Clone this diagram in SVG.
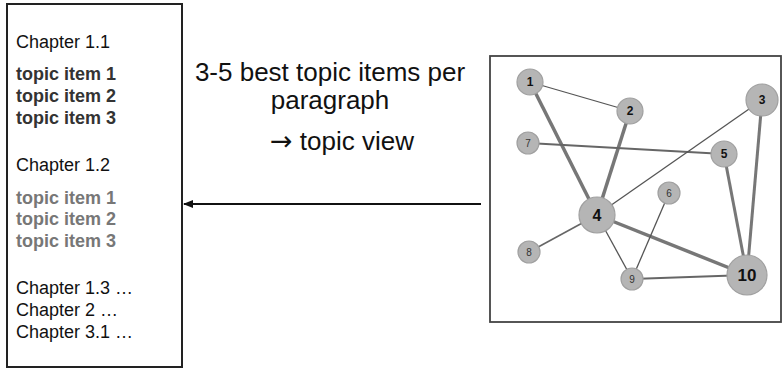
<svg xmlns="http://www.w3.org/2000/svg" width="783" height="368" viewBox="0 0 783 368">
  <defs>
    <style>
      .txt { font-family: "Liberation Sans", Arial, sans-serif; }
      .chap { font-size: 18px; fill: #111; }
      .item { font-size: 18px; font-weight: bold; fill: #333; }
      .item-dim { font-size: 18px; font-weight: bold; fill: #777; }
      .title { font-size: 26px; fill: #111; }
      .arrow-glyph { font-family: "DejaVu Sans", sans-serif; font-size: 27px; }
      .node { fill: #b5b5b5; stroke: #a0a0a0; stroke-width: 1.2; }
      .lbl-b { font-family: "Liberation Sans", Arial, sans-serif; font-weight: bold; fill: #111; text-anchor: middle; }
      .lbl { font-family: "Liberation Sans", Arial, sans-serif; font-size: 10px; fill: #333; text-anchor: middle; }
      .e-thin { stroke: #555; stroke-width: 1.3; }
      .e-mid { stroke: #666; stroke-width: 2; }
      .e-thick { stroke: #777; stroke-width: 3.5; }
    </style>
    <marker id="arrowhead" markerWidth="10" markerHeight="8" refX="9" refY="4" orient="auto" markerUnits="userSpaceOnUse">
      <path d="M0,0 L10,4 L0,8 Z" fill="#111"/>
    </marker>
  </defs>

  <rect width="783" height="368" fill="#ffffff"/>

  <!-- document outline panel -->
  <g id="outline">
    <rect x="7" y="4" width="175" height="363" fill="none" stroke="#222" stroke-width="2"/>
    <text class="txt chap" x="16" y="47.5">Chapter 1.1</text>
    <text class="txt item" x="16" y="79.5">topic item 1</text>
    <text class="txt item" x="16" y="101.5">topic item 2</text>
    <text class="txt item" x="16" y="123.5">topic item 3</text>
    <text class="txt chap" x="16" y="170.5">Chapter 1.2</text>
    <text class="txt item-dim" x="16" y="203.5">topic item 1</text>
    <text class="txt item-dim" x="16" y="225">topic item 2</text>
    <text class="txt item-dim" x="16" y="246.5">topic item 3</text>
    <text class="txt chap" x="16" y="294">Chapter 1.3 …</text>
    <text class="txt chap" x="16" y="316">Chapter 2 …</text>
    <text class="txt chap" x="16" y="338">Chapter 3.1 …</text>
  </g>

  <!-- caption -->
  <g id="caption">
    <text class="txt title" x="330" y="81" text-anchor="middle">3-5 best topic items per</text>
    <text class="txt title" x="330" y="109" text-anchor="middle">paragraph</text>
    <text class="txt title" x="342" y="150" text-anchor="middle"><tspan class="arrow-glyph">→</tspan> topic view</text>
  </g>

  <!-- topic graph panel -->
  <g id="graph-frame">
    <rect x="490" y="56" width="291" height="266" fill="none" stroke="#444" stroke-width="1.8"/>
  </g>

  <g id="connectors" fill="none">
    <line x1="481" y1="204" x2="184" y2="204" stroke="#111" stroke-width="2" marker-end="url(#arrowhead)"/>
    <line class="e-thin" x1="530" y1="82" x2="630" y2="111"/>
    <line class="e-thick" x1="530" y1="82" x2="597" y2="215"/>
    <line class="e-thick" x1="630" y1="111" x2="597" y2="215"/>
    <line class="e-mid" x1="528" y1="143" x2="724" y2="154"/>
    <line class="e-thin" x1="762" y1="100" x2="597" y2="215"/>
    <line class="e-thick" style="stroke-width:3" x1="762" y1="100" x2="747" y2="275"/>
    <line class="e-thick" style="stroke-width:3" x1="724" y1="154" x2="747" y2="275"/>
    <line class="e-thick" x1="597" y1="215" x2="747" y2="275"/>
    <line class="e-mid" style="stroke-width:1.6" x1="597" y1="215" x2="529" y2="252"/>
    <line class="e-thin" x1="597" y1="215" x2="632" y2="279"/>
    <line class="e-thin" x1="669" y1="193" x2="632" y2="279"/>
    <line class="e-mid" x1="632" y1="279" x2="747" y2="275"/>
  </g>

  <g id="node-1"><circle class="node" cx="530" cy="82" r="13"/><text class="lbl-b" x="530" y="86" font-size="12">1</text></g>
  <g id="node-2"><circle class="node" cx="630" cy="111" r="13"/><text class="lbl-b" x="630" y="115" font-size="12">2</text></g>
  <g id="node-3"><circle class="node" cx="762" cy="100" r="16"/><text class="lbl-b" x="762" y="104" font-size="12">3</text></g>
  <g id="node-7"><circle class="node" cx="528" cy="143" r="11"/><text class="lbl" x="528" y="146.5">7</text></g>
  <g id="node-5"><circle class="node" cx="724" cy="154" r="13"/><text class="lbl-b" x="724" y="158" font-size="12">5</text></g>
  <g id="node-6"><circle class="node" cx="669" cy="193" r="11"/><text class="lbl" x="669" y="196.5">6</text></g>
  <g id="node-4"><circle class="node" cx="597" cy="215" r="18"/><text class="lbl-b" x="597" y="220.5" font-size="16">4</text></g>
  <g id="node-8"><circle class="node" cx="529" cy="252" r="11"/><text class="lbl" x="529" y="255.5">8</text></g>
  <g id="node-9"><circle class="node" cx="632" cy="279" r="11"/><text class="lbl" x="632" y="282.5">9</text></g>
  <g id="node-10"><circle class="node" cx="747" cy="275" r="20"/><text class="lbl-b" x="747" y="281" font-size="17">10</text></g>
</svg>
